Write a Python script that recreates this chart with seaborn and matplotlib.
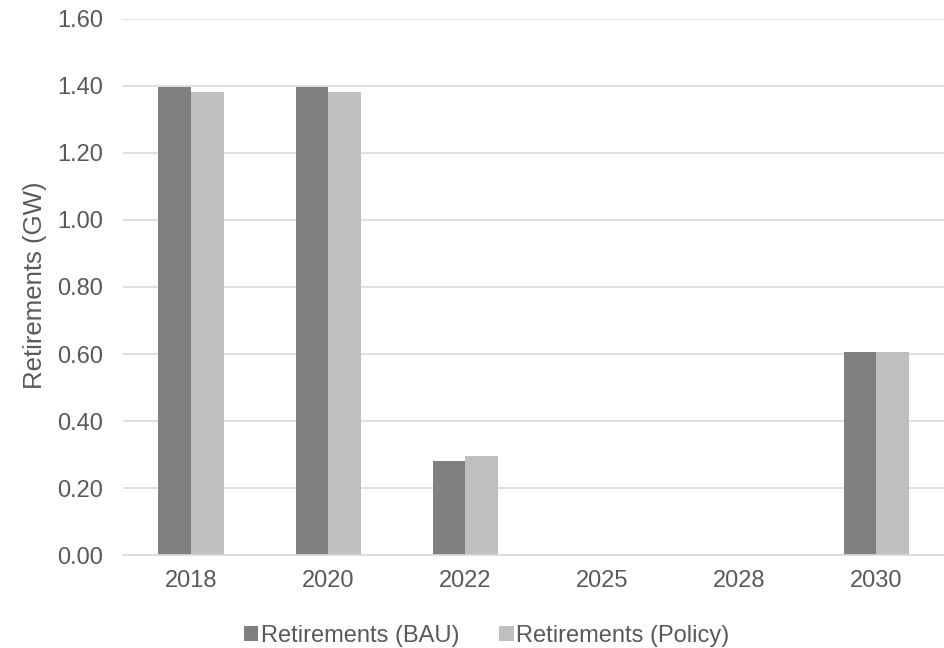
import matplotlib
matplotlib.use("Agg")
import matplotlib.pyplot as plt
import seaborn as sns
import pandas as pd

years = ["2018", "2020", "2022", "2025", "2028", "2030"]
bau = [1.397, 1.397, 0.281, 0.0, 0.0, 0.606]
policy = [1.381, 1.381, 0.296, 0.0, 0.0, 0.606]
series = ["Retirements (BAU)", "Retirements (Policy)"]
colors = ["#808080", "#BFBFBF"]
yticks = [0.0, 0.2, 0.4, 0.6, 0.8, 1.0, 1.2, 1.4, 1.6]

df = pd.DataFrame({
    "Year": years * 2,
    "Value": bau + policy,
    "Series": [series[0]] * len(years) + [series[1]] * len(years),
})

sns.set_theme(style="white")
plt.rcParams['font.family'] = ['Liberation Sans', 'DejaVu Sans']

FS = 17
fig = plt.figure(figsize=(9.45, 6.48), dpi=100)
ax = fig.add_axes([0.130, 0.1435, 0.870, 0.8272])

sns.barplot(data=df, x="Year", y="Value", hue="Series", order=years,
            hue_order=series, palette=colors, width=0.48, gap=0,
            linewidth=0, saturation=1, ax=ax, legend=True)

ax.set_ylim(0, 1.6)
ax.set_xlim(-0.5, len(years) - 0.5)
ax.set_yticks(yticks)
ax.set_yticklabels([f"{v:.2f}" for v in yticks])
ax.yaxis.grid(True, color="#D9D9D9", linewidth=1.2)
ax.set_axisbelow(True)
for s in ["top", "right", "left"]:
    ax.spines[s].set_visible(False)
ax.spines["bottom"].set_color("#D9D9D9")
ax.spines["bottom"].set_linewidth(1.2)
ax.tick_params(axis="both", colors="#595959", labelsize=FS, length=0)
ax.tick_params(axis="y", pad=14)
ax.tick_params(axis="x", pad=11)
ax.set_xlabel("")
ax.set_ylabel("Retirements (GW)", color="#595959", fontsize=18.5, labelpad=8)
ax.yaxis.set_label_coords(-0.0925, 0.503)

handles, labels = ax.get_legend_handles_labels()
ax.get_legend().remove()
fig.legend(handles, labels, loc="center", bbox_to_anchor=(0.515, 1 - 636 / 648),
           ncol=2, frameon=False, fontsize=FS, handlelength=0.6,
           handleheight=0.6, handletextpad=0.12, columnspacing=1.7,
           labelcolor="#595959", borderaxespad=0, borderpad=0)

fig.savefig("out.png", dpi=100)
